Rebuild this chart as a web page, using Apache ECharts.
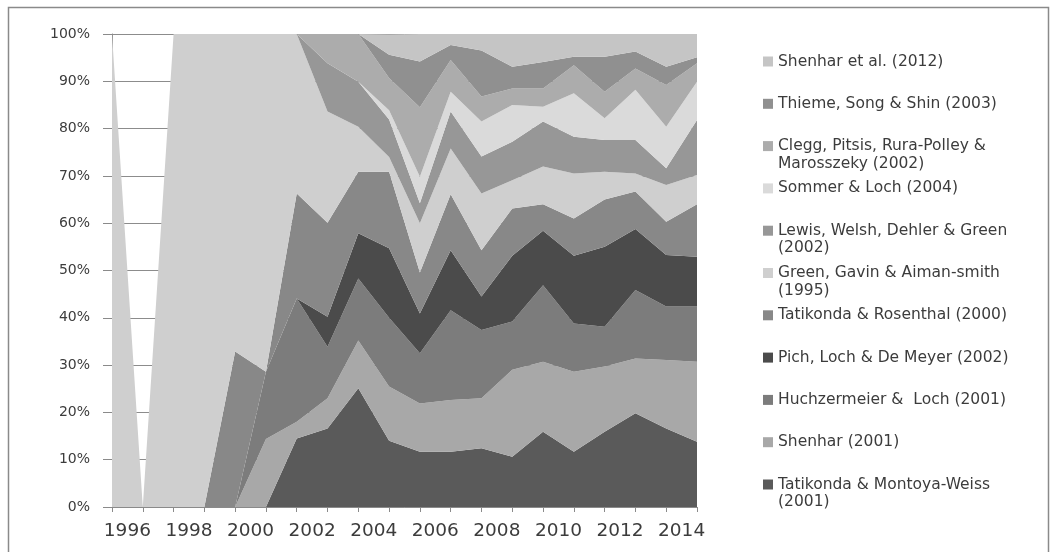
<!DOCTYPE html>
<html><head><meta charset="utf-8">
<script src="https://cdn.jsdelivr.net/npm/echarts@6/dist/echarts.min.js"></script>
<style>html,body{margin:0;padding:0;background:#fff}#c{width:1056px;height:552px}</style>
</head><body><div id="c"></div>
<script>
// Data points (one per year) and band labels
const years = ['1995','1996','1997','1998','1999','2000','2001','2002','2003','2004','2005','2006','2007','2008','2009','2010','2011','2012','2013','2014'];
const tickLabels = ['1996','1997','1998','1999','2000','2001','2002','2003','2004','2005','2006','2007','2008','2009','2010','2011','2012','2013','2014'];
const yTicks = [0,10,20,30,40,50,60,70,80,90,100];

// Shares (%) per series, bottom of stack to top
const tatikondaMontoya = [0,0,0,0,0,0,14.5,16.6,25.1,14.0,11.7,11.7,12.4,10.6,15.9,11.7,15.9,19.8,16.6,13.8];
const shenhar2001      = [0,0,0,0,0,14.4,3.5,6.4,10.1,11.5,10.2,10.9,10.6,18.4,14.8,16.9,13.8,11.6,14.5,16.9];
const huchzermeier     = [0,0,0,0,0,14.2,26.1,10.9,13.1,14.5,10.6,19.0,14.4,10.2,16.2,10.2,8.4,14.5,11.3,11.7];
const pich             = [0,0,0,0,0,0,0,6.3,9.6,14.7,8.4,12.7,7.1,13.9,11.5,14.3,16.9,12.9,10.9,10.5];
const tatikondaRosen   = [0,0,0,0,32.9,0,22.2,19.9,13.0,16.2,8.7,11.8,9.8,10.0,5.6,7.9,10.0,7.9,7.0,11.1];
const green            = [100,0,100,100,67.1,71.4,33.7,23.5,9.5,3.1,10.4,9.7,12.0,6.0,8.0,9.5,5.9,3.8,7.8,6.2];
const lewis            = [0,0,0,0,0,0,0,10.2,9.5,7.9,4.2,7.8,7.8,8.1,9.5,7.8,6.7,7.1,3.5,11.6];
const sommer           = [0,0,0,0,0,0,0,0,0,2.0,5.6,4.2,7.4,7.8,3.1,9.2,4.6,10.6,8.8,8.1];
const clegg            = [0,0,0,0,0,0,0,6.2,10.1,6.8,14.7,6.7,5.3,3.5,3.9,5.9,5.6,4.5,8.8,3.9];
const thieme           = [0,0,0,0,0,0,0,0,0,4.9,9.7,3.2,9.7,4.6,5.6,1.8,7.4,3.6,3.9,1.3];
const shenharEtAl      = [0,0,0,0,0,0,0,0,0,4.3,5.8,2.3,3.5,6.9,5.9,4.8,4.8,3.7,6.9,4.9];

const seriesNames = [
  'Tatikonda & Montoya-Weiss (2001)',
  'Shenhar (2001)',
  'Huchzermeier &  Loch (2001)',
  'Pich, Loch & De Meyer (2002)',
  'Tatikonda & Rosenthal (2000)',
  'Green, Gavin & Aiman-smith (1995)',
  'Lewis, Welsh, Dehler & Green (2002)',
  'Sommer & Loch (2004)',
  'Clegg, Pitsis, Rura-Polley & Marosszeky (2002)',
  'Thieme, Song & Shin (2003)',
  'Shenhar et al. (2012)'
];
const seriesData = [tatikondaMontoya, shenhar2001, huchzermeier, pich, tatikondaRosen, green, lewis, sommer, clegg, thieme, shenharEtAl];
const seriesColors = ['#5a5a5a','#a8a8a8','#7c7c7c','#4b4b4b','#888888','#cfcfcf','#979797','#dadada','#acacac','#909090','#c5c5c5'];
const legendWrap = {
  'Clegg, Pitsis, Rura-Polley & Marosszeky (2002)': ['Clegg, Pitsis, Rura-Polley &', 'Marosszeky (2002)'],
  'Lewis, Welsh, Dehler & Green (2002)': ['Lewis, Welsh, Dehler & Green', '(2002)'],
  'Green, Gavin & Aiman-smith (1995)': ['Green, Gavin & Aiman-smith', '(1995)'],
  'Tatikonda & Montoya-Weiss (2001)': ['Tatikonda & Montoya-Weiss', '(2001)']
};

const FONT = 'DejaVu Sans';
const LH = 17.5;
const chart = echarts.init(document.getElementById('c'), null, {renderer: 'canvas'});

const legendOrder = seriesNames.slice().reverse();
const legends = legendOrder.map((name, i) => ({
  show: true,
  data: [name],
  orient: 'vertical',
  left: 763,
  top: 61.5 + i * 42.3 - 1.5 * LH,
  padding: 0,
  itemWidth: 10,
  itemHeight: 10,
  itemGap: 0,
  icon: 'rect',
  selectedMode: false,
  textStyle: {fontFamily: FONT, fontSize: 15.5, color: '#3c3c3c', lineHeight: LH},
  formatter: n => {
    const lines = legendWrap[n] || [n];
    return ' \n' + lines[0] + '\n' + (lines[1] || ' ');
  }
}));

chart.setOption({
  animation: false,
  backgroundColor: '#ffffff',
  grid: {left: 112, right: 359, top: 34, bottom: 45, containLabel: false},
  legend: legends,
  graphic: [{
    type: 'rect', silent: true,
    shape: {x: 8.5, y: 7.5, width: 1040, height: 570},
    style: {fill: 'none', stroke: '#8a8a8a', lineWidth: 1.5}
  }],
  xAxis: [{
    type: 'category',
    data: years,
    boundaryGap: false,
    position: 'bottom',
    axisLine: {show: true, lineStyle: {color: '#8a8a8a', width: 1}},
    axisTick: {show: true, interval: 0, length: 5, lineStyle: {color: '#8a8a8a'}},
    axisLabel: {show: false},
    splitLine: {show: false}
  }, {
    type: 'category',
    data: tickLabels,
    boundaryGap: true,
    position: 'bottom',
    axisLine: {show: false},
    axisTick: {show: false},
    axisLabel: {show: true, interval: 1, margin: 15, fontFamily: FONT, fontSize: 18.5, color: '#3c3c3c'},
    splitLine: {show: false}
  }],
  yAxis: {
    type: 'value',
    min: yTicks[0],
    max: yTicks[yTicks.length - 1],
    interval: 10,
    axisLine: {show: true, lineStyle: {color: '#8a8a8a', width: 1}},
    axisTick: {show: true, inside: false, length: 9, lineStyle: {color: '#8a8a8a'}},
    axisLabel: {margin: 22, fontFamily: FONT, fontSize: 14, color: '#3c3c3c', formatter: '{value}%'},
    splitLine: {show: true, lineStyle: {color: '#8c8c8c', width: 1}}
  },
  series: seriesNames.map((name, i) => ({
    name: name,
    type: 'line',
    stack: 'total',
    xAxisIndex: 0,
    data: seriesData[i],
    showSymbol: false,
    symbol: 'none',
    smooth: false,
    color: seriesColors[i],
    lineStyle: {width: 0, color: seriesColors[i]},
    areaStyle: {color: seriesColors[i], opacity: 1},
    emphasis: {disabled: true}
  }))
});
</script>
</body></html>
